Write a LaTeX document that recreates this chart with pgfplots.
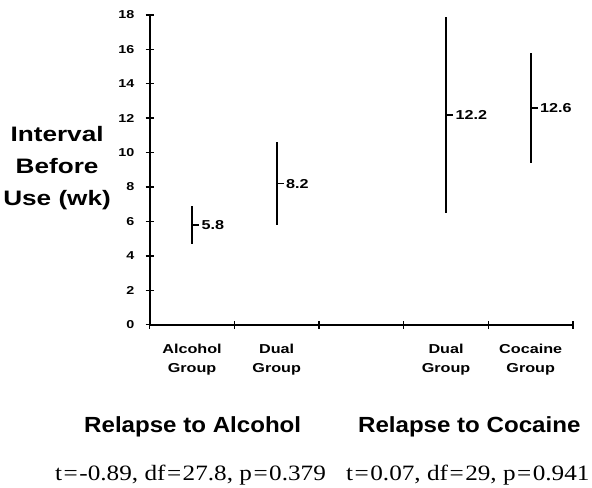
\documentclass[border=0pt]{standalone}
\usepackage{fontspec}
\setmainfont{Liberation Sans}[FakeStretch=1.25]
\newfontfamily\titlefont{Liberation Sans}[FakeStretch=1.1]
\newfontfamily\timesfont{Liberation Serif}[FakeStretch=1.15]
\usepackage{pgfplots}
\pgfplotsset{compat=1.18}

\newcommand{\eq}{\kern1.5pt=\kern1.5pt}

\begin{document}
\begin{tikzpicture}
\begin{axis}[
  scale only axis,
  width=425pt, height=311pt,
  xmin=0, xmax=5, ymin=0, ymax=18,
  clip=false,
  axis lines*=left,
  axis line style={line width=1.8pt},
  every tick/.style={line width=1.5pt, black},
  tick align=center,
  major tick length=8pt,
  xtick={0,1,2,3,4,5},
  xticklabels={},
  ytick={0,2,...,18},
  /pgf/number format/assume math mode=true,
  yticklabel style={font=\bfseries\fontsize{11.5}{12}\selectfont, xshift=-8pt},
  extra x ticks={0.5,1.5,3.5,4.5},
  extra x tick labels={Alcohol\\Group, Dual\\Group, Dual\\Group, Cocaine\\Group},
  extra x tick style={major tick length=0pt,
    tick label style={align=center, font=\bfseries\fontsize{13}{19}\selectfont, yshift=-16pt}},
]
\addplot[draw=none, mark=-, mark size=3.5pt,
  mark options={xshift=3.5pt, line width=1.6pt, black},
  error bars/.cd, y dir=both, y explicit, error mark=none,
  error bar style={line width=2pt, black}]
  coordinates {
    (0.5,5.8)  +- (0,1.1)
    (1.5,8.2)  +- (0,2.4)
    (3.5,12.2) +- (0,5.7)
    (4.5,12.6) +- (0,3.2)
  };
% mean labels
\addplot[draw=none, mark=none,
  nodes near coords={\pgfmathprintnumber[fixed,precision=1,fixed zerofill]{\pgfplotspointmeta}},
  every node near coord/.append style={anchor=west, xshift=6pt,
    font=\bfseries\fontsize{13}{13}\selectfont}]
  coordinates {(0.5,5.8) (1.5,8.2) (3.5,12.2) (4.5,12.6)};

\node[align=center, font=\bfseries\fontsize{21}{32}\selectfont]
  at (axis cs:-1.094,9.09) {Interval\\Before\\Use (wk)};
\node[anchor=base west, inner sep=0pt, font=\titlefont\bfseries\fontsize{22}{22}\selectfont]
  at (axis cs:-0.776,-6.25) {Relapse to Alcohol};
\node[anchor=base west, inner sep=0pt, font=\titlefont\bfseries\fontsize{22}{22}\selectfont]
  at (axis cs:2.459,-6.25) {Relapse to Cocaine};
\node[anchor=base west, inner sep=0pt, font=\timesfont\fontsize{22}{22}\selectfont]
  at (axis cs:-1.118,-9.03) {t\eq-0.89, df\eq27.8, p\eq0.379};
\node[anchor=base west, inner sep=0pt, font=\timesfont\fontsize{22}{22}\selectfont]
  at (axis cs:2.318,-9.03) {t\eq0.07, df\eq29, p\eq0.941};
\path (axis cs:-1.741,18.866) rectangle (axis cs:5.224,-9.433);
\end{axis}
\end{tikzpicture}
\end{document}
